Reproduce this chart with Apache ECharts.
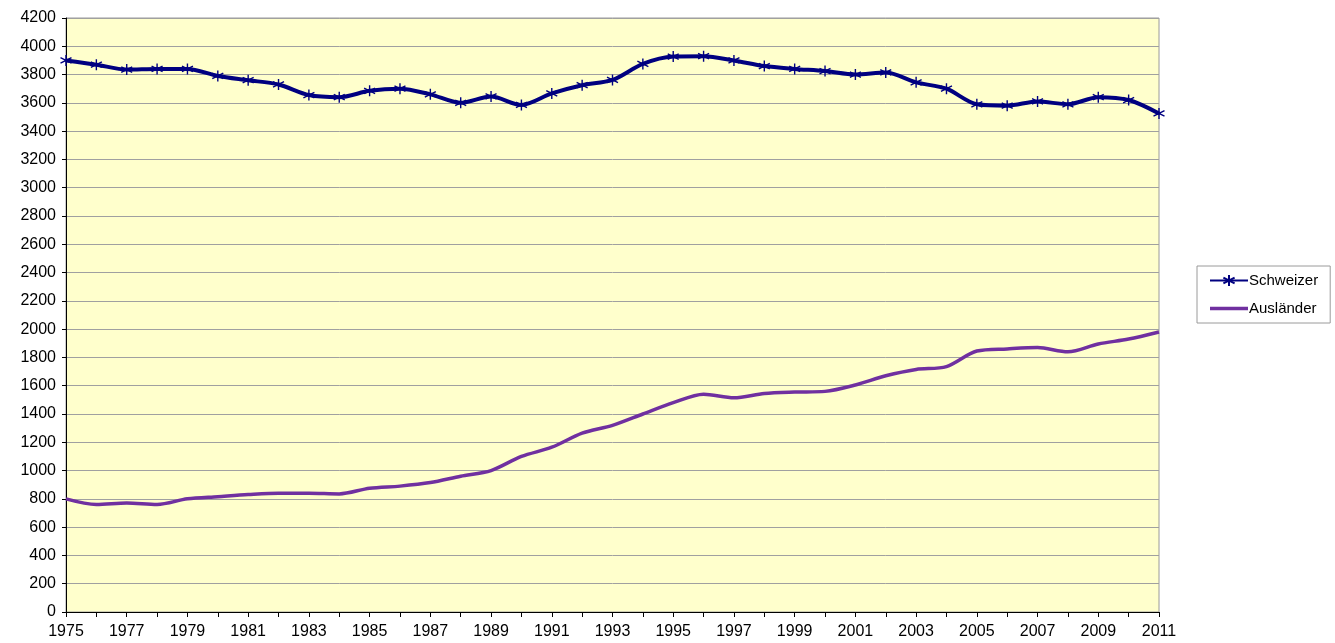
<!DOCTYPE html>
<html>
<head>
<meta charset="utf-8">
<script src="https://cdn.jsdelivr.net/npm/echarts@6/dist/echarts.min.js"></script>
<style>html,body{margin:0;padding:0;background:#fff;}#c{width:1335px;height:643px;}</style>
</head>
<body>
<div id="c"></div>
<script>
const years = ['1975','1976','1977','1978','1979','1980','1981','1982','1983','1984','1985','1986','1987','1988','1989','1990','1991','1992','1993','1994','1995','1996','1997','1998','1999','2000','2001','2002','2003','2004','2005','2006','2007','2008','2009','2010','2011'];
const schweizer = [3900,3870,3835,3840,3840,3790,3760,3730,3655,3640,3685,3700,3660,3600,3645,3585,3667,3725,3762,3875,3927,3930,3900,3860,3840,3825,3800,3815,3745,3700,3590,3580,3610,3590,3640,3620,3525];
const auslaender = [800,760,770,760,800,815,830,840,840,835,875,890,915,960,1000,1100,1165,1265,1320,1400,1480,1540,1515,1545,1555,1560,1605,1670,1715,1735,1845,1860,1870,1840,1895,1930,1980];
const seriesNames = ['Schweizer','Ausländer'];

const asterisk = 'path://M5 0 L5 10 M0.7 2.5 L9.3 7.5 M9.3 2.5 L0.7 7.5';
const chart = echarts.init(document.getElementById('c'));
chart.setOption({
  animation: false,
  textStyle: {fontFamily: 'Liberation Sans, Arial, sans-serif'},
  grid: {left: 66, right: 176, top: 18, bottom: 31, show: true, backgroundColor: '#FFFFCC', borderColor: '#9a9a9a', borderWidth: 1},
  legend: {
    orient: 'vertical', left: 1197, top: 266, padding: [7, 12, 7, 12],
    borderColor: '#9a9a9a', borderWidth: 1, itemGap: 13, itemWidth: 38, itemHeight: 14,
    textStyle: {fontSize: 15, color: '#000', padding: [0, 0, 0, -4]},
    data: [
      {name: seriesNames[0]},
      {name: seriesNames[1], icon: 'path://M0 0 L38 0 L38 3.5 L0 3.5 Z'}
    ]
  },
  xAxis: {
    type: 'category', data: years, boundaryGap: false,
    axisLine: {lineStyle: {color: '#000', width: 1}},
    axisTick: {show: true, interval: 0, length: 5, lineStyle: {color: '#000'}},
    axisLabel: {interval: 1, color: '#000', fontSize: 16, margin: 12},
    splitLine: {show: false}
  },
  yAxis: {
    type: 'value', min: 0, max: 4200, interval: 200,
    axisLine: {show: true, lineStyle: {color: '#000', width: 1}},
    axisTick: {show: true, length: 4, lineStyle: {color: '#000'}},
    axisLabel: {color: '#000', fontSize: 16, margin: 10, formatter: v => String(v)},
    splitLine: {lineStyle: {color: '#a0a0a0', width: 1}}
  },
  series: [
    {
      name: seriesNames[0], type: 'line', data: schweizer, smooth: 0.3,
      symbol: asterisk, symbolSize: 11, showAllSymbol: true,
      lineStyle: {color: '#000080', width: 4},
      itemStyle: {color: '#000080', borderColor: '#000080', borderWidth: 1.4}
    },
    {
      name: seriesNames[1], type: 'line', data: auslaender, smooth: 0.3,
      symbol: 'none',
      lineStyle: {color: '#7030A0', width: 3.5},
      itemStyle: {color: '#7030A0'}
    }
  ]
});
</script>
</body>
</html>
